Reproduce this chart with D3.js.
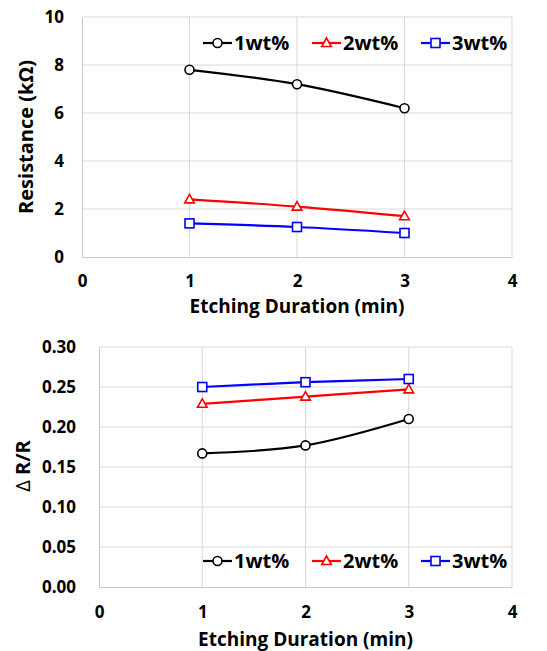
<!DOCTYPE html>
<html>
<head>
<meta charset="utf-8">
<script src="https://cdn.jsdelivr.net/npm/d3@7"></script>
<style>
  body { margin: 0; background: #fff; }
  text { font-family: "Open Sans", sans-serif; font-weight: bold; fill: #000; }
</style>
</head>
<body>
<div id="plot"></div>
<script>
// data
const durations = [1, 2, 3];
const seriesNames = ["1wt%", "2wt%", "3wt%"];
const resistance1 = [7.8, 7.2, 6.2];
const resistance2 = [2.4, 2.1, 1.7];
const resistance3 = [1.4, 1.25, 1.0];
const ratio1 = [0.167, 0.177, 0.210];
const ratio2 = [0.229, 0.238, 0.247];
const ratio3 = [0.250, 0.256, 0.260];
const xTicks = [0, 1, 2, 3, 4];
const resTicks = [0, 2, 4, 6, 8, 10];
const ratioTicks = [0, 0.05, 0.10, 0.15, 0.20, 0.25, 0.30];

const colors = ["#000000", "#ff0000", "#0000ff"];
const symbols = ["circle", "triangle", "square"];

const w = 547, h = 651;
const svg = d3.select("div#plot").append("svg")
    .attr("width", w)
    .attr("height", h);

function drawMarker(g, type, x, y, color) {
  if (type === "circle") {
    g.append("circle").attr("cx", x).attr("cy", y).attr("r", 4.5)
      .attr("fill", "#fff").attr("stroke", color).attr("stroke-width", 1.6);
  } else if (type === "triangle") {
    g.append("path")
      .attr("d", `M${x},${y - 5}L${x + 4.8},${y + 3.5}L${x - 4.8},${y + 3.5}Z`)
      .attr("fill", "#fff").attr("stroke", color).attr("stroke-width", 1.6);
  } else {
    g.append("rect").attr("x", x - 4.5).attr("y", y - 4.5)
      .attr("width", 9).attr("height", 9)
      .attr("fill", "#fff").attr("stroke", color).attr("stroke-width", 1.6);
  }
}

function panel(opts) {
  const x = d3.scaleLinear().domain([0, 4]).range([opts.left, opts.right]);
  const y = d3.scaleLinear().domain(opts.yDomain).range([opts.bottom, opts.top]);
  const g = svg.append("g");

  // gridlines
  g.selectAll(".hg").data(opts.yTicks.slice(1)).enter().append("line")
    .attr("x1", opts.left).attr("x2", opts.right)
    .attr("y1", d => y(d)).attr("y2", d => y(d))
    .attr("stroke", "#d9d9d9").attr("stroke-width", 1);
  g.selectAll(".vg").data(xTicks.slice(1)).enter().append("line")
    .attr("x1", d => x(d)).attr("x2", d => x(d))
    .attr("y1", opts.top).attr("y2", opts.bottom)
    .attr("stroke", "#d9d9d9").attr("stroke-width", 1);

  // axes
  const yAxis = d3.axisLeft(y).tickValues(opts.yTicks).tickFormat(opts.fmt).tickSize(0).tickPadding(opts.yPad);
  g.append("g").attr("transform", `translate(${opts.left},0)`).call(yAxis)
    .call(a => a.select(".domain").attr("stroke", "#c8c8c8"))
    .selectAll("text").style("font-size", "17px").style("font-family", "'Open Sans', sans-serif");
  const xAxis = d3.axisBottom(x).tickValues(xTicks).tickFormat(d3.format("d")).tickSize(0).tickPadding(opts.xPad);
  g.append("g").attr("transform", `translate(0,${opts.bottom})`).call(xAxis)
    .call(a => a.select(".domain").attr("stroke", "#c8c8c8"))
    .selectAll("text").style("font-size", "17px").style("font-family", "'Open Sans', sans-serif");

  // series
  const line = d3.line().x((d, i) => x(durations[i])).y(d => y(d))
    .curve(d3.curveCatmullRom.alpha(0));
  opts.series.forEach((vals, k) => {
    g.append("path").datum(vals).attr("d", line)
      .attr("fill", "none").attr("stroke", colors[k]).attr("stroke-width", 2.2);
    vals.forEach((v, i) => drawMarker(g, symbols[k], x(durations[i]), y(v), colors[k]));
  });

  // legend
  const lx = [203, 312, 421];
  seriesNames.forEach((name, k) => {
    const ly = opts.legendY;
    g.append("line").attr("x1", lx[k]).attr("x2", lx[k] + 29)
      .attr("y1", ly).attr("y2", ly)
      .attr("stroke", colors[k]).attr("stroke-width", 2.2);
    drawMarker(g, symbols[k], lx[k] + 14.5, ly, colors[k]);
    g.append("text").attr("x", lx[k] + 31).attr("y", ly).attr("dy", "0.36em")
      .style("font-size", "20px").text(name);
  });

  // titles
  g.append("text").attr("x", (opts.left + opts.right) / 2)
    .attr("y", opts.xTitleY).attr("text-anchor", "middle")
    .style("font-size", "19px").text("Etching Duration (min)");
  const yt = g.append("text")
    .attr("transform", `translate(${opts.yTitleX},${opts.yTitleY}) rotate(-90)`)
    .attr("text-anchor", "middle").style("font-size", "20px");
  opts.yTitle.forEach(part => {
    yt.append("tspan").style("font-weight", part.weight).text(part.text);
  });
}

panel({
  left: 82, right: 512, top: 17, bottom: 257,
  yDomain: [0, 10], yTicks: resTicks, fmt: d3.format("d"), yPad: 18, xPad: 18,
  series: [resistance1, resistance2, resistance3],
  legendY: 43, xTitleY: 313, yTitleX: 33, yTitleY: 137,
  yTitle: [{text: "Resistance (kΩ)", weight: "bold"}]
});

panel({
  left: 99, right: 512, top: 347, bottom: 587,
  yDomain: [0, 0.30], yTicks: ratioTicks, fmt: d3.format(".2f"), yPad: 23, xPad: 19,
  series: [ratio1, ratio2, ratio3],
  legendY: 561, xTitleY: 646, yTitleX: 30, yTitleY: 466,
  yTitle: [{text: "Δ ", weight: "normal"}, {text: "R/R", weight: "bold"}]
});
</script>
</body>
</html>
